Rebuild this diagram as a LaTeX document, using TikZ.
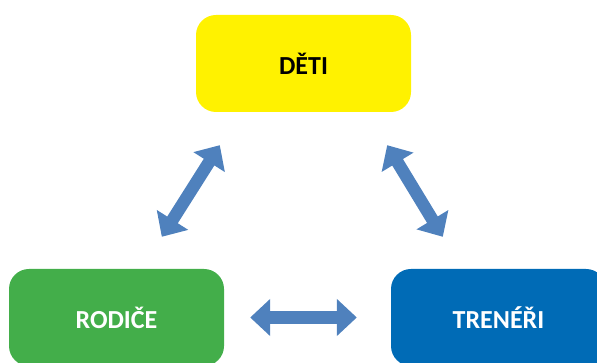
\documentclass[tikz,border=0pt]{standalone}
\usepackage{fontspec}
\setmainfont{Carlito}
\usepackage{xcolor}
\usepackage{tikz}
\usetikzlibrary{positioning, arrows.meta}
\definecolor{detiyellow}{RGB}{255,242,0}
\definecolor{rodicegreen}{RGB}{67,174,74}
\definecolor{trenerblue}{RGB}{0,107,182}
\definecolor{linkblue}{RGB}{79,129,189}

\begin{document}
\begin{tikzpicture}[x=1pt, y=1pt,
    box/.style={rounded corners=20pt, minimum width=215pt, minimum height=97pt,
        font=\fontsize{26}{30}\selectfont\bfseries},
    link/.style={linkblue, line width=12.5pt,
        {Triangle[length=20pt, width=36pt]}-{Triangle[length=20pt, width=36pt]}}]
    \useasboundingbox (0,0) rectangle (597,363);
    \clip (0,0) rectangle (597,363);

    % three groups
    \node[box, fill=detiyellow, text=black] (deti) at (303.5,299.5) {DĚTI};
    \node[box, fill=rodicegreen, text=white] (rodice) at (116.5,45.5) {RODIČE};
    \node[box, fill=trenerblue, text=white] (treneri) at (498.5,45.5) {TRENÉŘI};

    % arrow ends
    \coordinate (dl) at ([shift={(24,-33)}]deti.south west);
    \coordinate (rl) at ([shift={(153,32)}]rodice.north west);
    \coordinate (dr) at ([shift={(-24,-33)}]deti.south east);
    \coordinate (tr) at ([shift={(52,32)}]treneri.north west);

    % links
    \draw[link] (dl) -- (rl);
    \draw[link] (dr) -- (tr);
    \draw[link, shorten <=26pt, shorten >=34pt] (rodice.east) -- (treneri.west);
\end{tikzpicture}
\end{document}
